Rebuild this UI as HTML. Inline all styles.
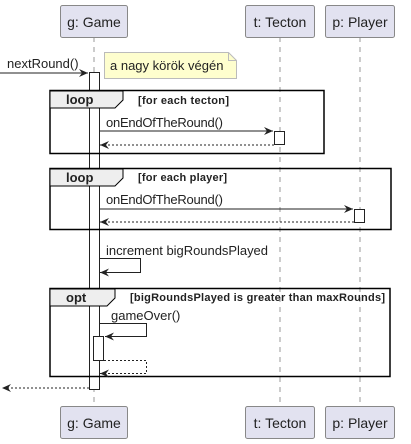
<!DOCTYPE html>
<html><head><style>body{margin:0;background:#fff}svg{display:block}text{font-family:"Liberation Sans",sans-serif;fill:#222}</style></head><body>
<svg width="411" height="444" xmlns="http://www.w3.org/2000/svg">
<defs><marker id="a" markerWidth="10" markerHeight="8" refX="9" refY="4" orient="auto" markerUnits="userSpaceOnUse"><path d="M0,0 L9,4 L0,8 L3,4 Z" fill="#222"/></marker></defs>
<g stroke="#999" stroke-dasharray="5,5" stroke-width="1">
<line x1="94" y1="37" x2="94" y2="406"/><line x1="280" y1="37" x2="280" y2="406"/><line x1="360" y1="37" x2="360" y2="406"/></g>
<g fill="#e2e2f0" stroke="#888" stroke-width="1">
<rect x="60.5" y="5.5" width="67" height="32" rx="2"/><rect x="245.5" y="5.5" width="69" height="32" rx="2"/><rect x="325.5" y="5.5" width="69" height="32" rx="2"/>
<rect x="60.5" y="406.5" width="67" height="32" rx="2"/><rect x="245.5" y="406.5" width="69" height="32" rx="2"/><rect x="325.5" y="406.5" width="69" height="32" rx="2"/></g>
<g font-size="14" text-anchor="middle"><text x="94" y="27">g: Game</text><text x="280" y="27">t: Tecton</text><text x="360" y="27">p: Player</text>
<text x="94" y="428">g: Game</text><text x="280" y="428">t: Tecton</text><text x="360" y="428">p: Player</text></g>
<rect x="89.5" y="72.5" width="10" height="317" fill="#fff" stroke="#222"/>
<path d="M104.5,52.5 H228.5 L236.5,60.5 V78.5 H104.5 Z" fill="#fefece" stroke="#bbb"/><path d="M228.5,52.5 V60.5 H236.5" fill="none" stroke="#bbb"/>
<text x="110" y="70" font-size="13">a nagy körök végén</text>
<line x1="0" y1="73" x2="88" y2="73" stroke="#222" marker-end="url(#a)"/><text x="7" y="68" font-size="13">nextRound()</text>
<g stroke="#000" stroke-width="1.5" fill="none"><rect x="50" y="90.5" width="274" height="63"/><rect x="50" y="168.5" width="341" height="61"/><rect x="50" y="288.5" width="340" height="88"/></g>
<g fill="#eee" stroke="#000" stroke-width="1"><path d="M50,91 H123 V100 L115,108 H50 Z"/><path d="M50,169 H123 V178 L115,186 H50 Z"/><path d="M50,289 H115 V298 L107,306 H50 Z"/></g>
<g font-size="13" font-weight="bold"><text x="66" y="104">loop</text><text x="66" y="182">loop</text><text x="66" y="302">opt</text></g>
<g font-size="11" font-weight="bold"><text x="138" y="104" textLength="91">[for each tecton]</text><text x="138" y="181" textLength="89">[for each player]</text><text x="130" y="301" textLength="255">[bigRoundsPlayed is greater than maxRounds]</text></g>
<g font-size="13"><text x="106" y="127" textLength="117">onEndOfTheRound()</text><text x="106" y="204" textLength="117">onEndOfTheRound()</text><text x="106" y="255" textLength="162">increment bigRoundsPlayed</text><text x="111" y="320">gameOver()</text></g>
<line x1="99" y1="131" x2="273" y2="131" stroke="#222" marker-end="url(#a)"/>
<rect x="274.5" y="131.5" width="10" height="13" fill="#fff" stroke="#222"/>
<line x1="274" y1="145" x2="100" y2="145" stroke="#222" stroke-dasharray="2,2" marker-end="url(#a)"/>
<line x1="99" y1="209" x2="353" y2="209" stroke="#222" marker-end="url(#a)"/>
<rect x="354.5" y="209.5" width="10" height="13" fill="#fff" stroke="#222"/>
<line x1="354" y1="222" x2="100" y2="222" stroke="#222" stroke-dasharray="2,2" marker-end="url(#a)"/>
<path d="M99,258.5 H140.5 V272.5 H100" fill="none" stroke="#222" marker-end="url(#a)"/>
<path d="M99,323.5 H146.5 V336.5 H105" fill="none" stroke="#222" marker-end="url(#a)"/>
<rect x="93.5" y="336.5" width="10" height="24" fill="#fff" stroke="#222"/>
<path d="M104,360.5 H146.5 V373.5 H100" fill="none" stroke="#222" stroke-dasharray="2,2" marker-end="url(#a)"/>
<line x1="89" y1="388" x2="2" y2="388" stroke="#222" stroke-dasharray="2,2" marker-end="url(#a)"/>
</svg></body></html>
